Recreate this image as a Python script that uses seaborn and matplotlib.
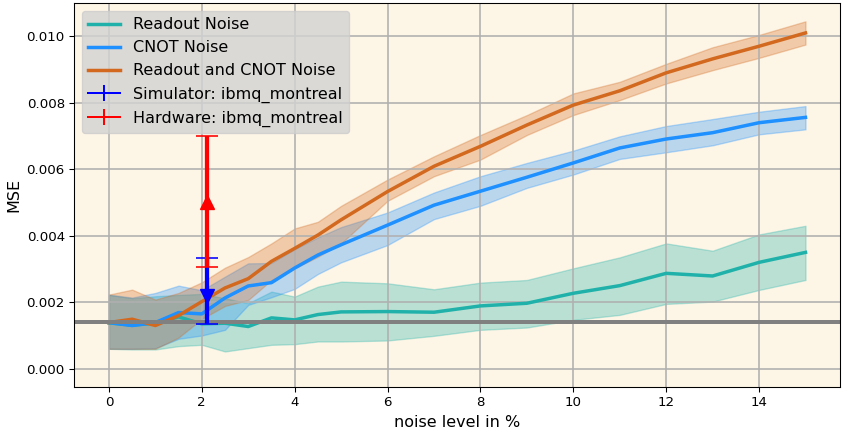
import numpy as np
import pandas as pd
import matplotlib
matplotlib.use("Agg")
import matplotlib.pyplot as plt
import seaborn as sns

# data
noise_level = [0, 0.5, 1, 1.5, 2, 2.5, 3, 3.5, 4, 4.5, 5, 6, 7, 8, 9, 10, 11, 12, 13, 14, 15]

readout_mean = [0.00138, 0.00131, 0.00137, 0.00156, 0.00135, 0.00137, 0.00127, 0.00153, 0.00147, 0.00163, 0.00171,
                0.00172, 0.00170, 0.00189, 0.00197, 0.00227, 0.00250, 0.00287, 0.00279, 0.00320, 0.00350]
readout_low = [0.00060, 0.00058, 0.00058, 0.00068, 0.00072, 0.00052, 0.00062, 0.00072, 0.00074, 0.00082, 0.00082,
               0.00085, 0.00099, 0.00117, 0.00124, 0.00147, 0.00162, 0.00195, 0.00202, 0.00237, 0.00267]
readout_high = [0.00222, 0.00212, 0.00218, 0.00222, 0.00225, 0.00212, 0.00197, 0.00232, 0.00217, 0.00247, 0.00262,
                0.00257, 0.00239, 0.00259, 0.00267, 0.00302, 0.00335, 0.00377, 0.00355, 0.00404, 0.00430]

cnot_mean = [0.00139, 0.00130, 0.00139, 0.00169, 0.00165, 0.00213, 0.00249, 0.00259, 0.00303, 0.00342, 0.00373,
             0.00432, 0.00492, 0.00534, 0.00576, 0.00619, 0.00664, 0.00691, 0.00710, 0.00740, 0.00756]
cnot_low = [0.00060, 0.00060, 0.00062, 0.00090, 0.00100, 0.00117, 0.00192, 0.00215, 0.00240, 0.00285, 0.00320,
            0.00372, 0.00450, 0.00490, 0.00544, 0.00584, 0.00631, 0.00651, 0.00672, 0.00705, 0.00720]
cnot_high = [0.00223, 0.00214, 0.00228, 0.00250, 0.00236, 0.00277, 0.00317, 0.00318, 0.00360, 0.00395, 0.00426,
             0.00470, 0.00530, 0.00579, 0.00619, 0.00656, 0.00699, 0.00730, 0.00751, 0.00773, 0.00790]

both_mean = [0.00139, 0.00149, 0.00130, 0.00160, 0.00202, 0.00243, 0.00271, 0.00323, 0.00362, 0.00402, 0.00448,
             0.00533, 0.00609, 0.00669, 0.00733, 0.00793, 0.00836, 0.00890, 0.00932, 0.00970, 0.01010]
both_low = [0.00060, 0.00060, 0.00060, 0.00094, 0.00150, 0.00189, 0.00207, 0.00267, 0.00302, 0.00337, 0.00377,
            0.00505, 0.00579, 0.00629, 0.00703, 0.00763, 0.00808, 0.00858, 0.00898, 0.00935, 0.00975]
both_high = [0.00223, 0.00238, 0.00208, 0.00228, 0.00260, 0.00304, 0.00336, 0.00377, 0.00422, 0.00442, 0.00490,
             0.00569, 0.00639, 0.00703, 0.00763, 0.00828, 0.00863, 0.00917, 0.00967, 0.01004, 0.01045]

baseline_mse = 0.0014

device_x = 2.12
sim_mse = 0.0022
sim_err_low = 0.00085
sim_err_high = 0.00114
hw_mse = 0.00503
hw_err = 0.00197

# plot
fig, ax = plt.subplots(figsize=(842 / 96, 431 / 96), dpi=96)
fig.subplots_adjust(left=0.088, right=0.998, top=0.993, bottom=0.102)
ax.set_facecolor("oldlace")

series = [
    ("Readout Noise", readout_mean, readout_low, readout_high, "lightseagreen"),
    ("CNOT Noise", cnot_mean, cnot_low, cnot_high, "dodgerblue"),
    ("Readout and CNOT Noise", both_mean, both_low, both_high, "chocolate"),
]
for name, mean, low, high, col in series:
    df = pd.DataFrame({"noise": noise_level, "mse": mean})
    sns.lineplot(data=df, x="noise", y="mse", color=col, lw=2.6, label=name, ax=ax)
    ax.fill_between(noise_level, low, high, color=col, alpha=0.3)

ax.axhline(baseline_mse, color="gray", lw=3)

# device results: thin labelled errorbar for the legend, thick bar + caps + arrow marker on top
devices = [
    ("Simulator: ibmq_montreal", sim_mse, sim_err_low, sim_err_high, "blue", "v"),
    ("Hardware: ibmq_montreal", hw_mse, hw_err, hw_err, "red", "^"),
]
for name, y, elo, ehi, col, mk in devices:
    ax.errorbar([device_x], [y], yerr=[[elo], [ehi]], color=col, capsize=0, label=name)
    ax.vlines(device_x, y - elo, y + ehi, color=col, lw=3.2)
    ax.plot([device_x, device_x], [y - elo, y + ehi], marker="_", ms=17, mew=1.2, color=col, ls="none")
    ax.plot([device_x], [y], marker=mk, color=col, ms=10, ls="none")

ax.set_xlim(-0.75, 15.75)
ax.set_ylim(-0.00055, 0.011)
ax.set_xticks(np.arange(0, 15, 2))
ax.set_yticks(np.arange(0, 0.0101, 0.002))
ax.grid(True, color="#b0b0b0", lw=1.2)
ax.set_xlabel("noise level in %", fontsize=12)
ax.set_ylabel("MSE", fontsize=12)
ax.tick_params(labelsize=10)
ax.legend(loc="upper left", fontsize=12, facecolor="lightgray", framealpha=0.8)

fig.savefig("out.png", dpi=96)
